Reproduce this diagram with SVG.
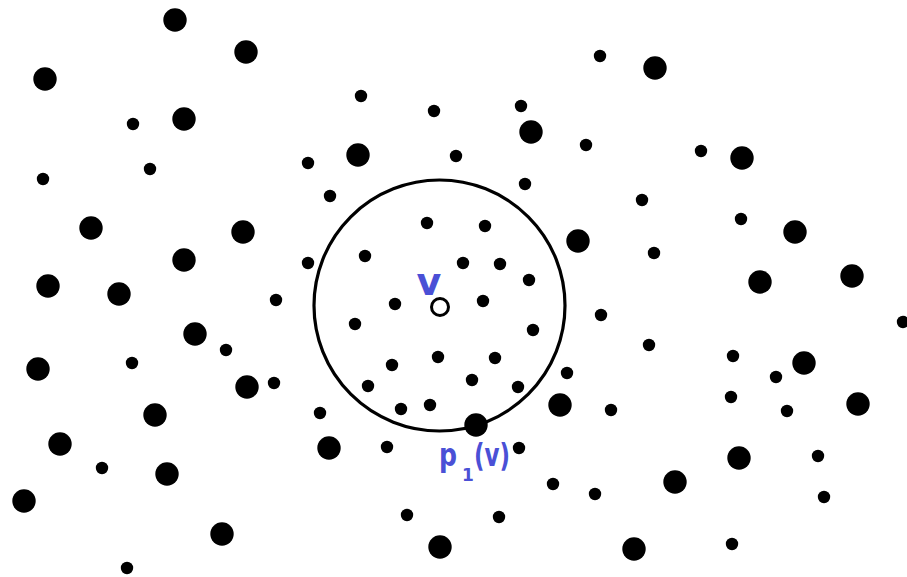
<svg xmlns="http://www.w3.org/2000/svg" width="907" height="577" viewBox="0 0 907 577">
<style>
.b{fill:#000}
.s{fill:#000}
.ring{fill:none;stroke:#000;stroke-width:3.2}
.lbl{font-family:"DejaVu Sans",sans-serif;font-weight:bold;fill:#4a50d6}
</style>
<rect width="907" height="577" fill="#fff"/>
<g id="range"><circle class="ring" cx="439.5" cy="305.5" r="125.5"/></g>
<g id="connectors"></g>
<g id="big-points">
<g id="b1"><circle class="b" cx="175" cy="20" r="11.7"/></g>
<g id="b2"><circle class="b" cx="246" cy="52" r="11.7"/></g>
<g id="b3"><circle class="b" cx="45" cy="79" r="11.7"/></g>
<g id="b4"><circle class="b" cx="184" cy="119" r="11.7"/></g>
<g id="b5"><circle class="b" cx="358" cy="155" r="11.7"/></g>
<g id="b6"><circle class="b" cx="531" cy="132" r="11.7"/></g>
<g id="b7"><circle class="b" cx="655" cy="68" r="11.7"/></g>
<g id="b8"><circle class="b" cx="742" cy="158" r="11.7"/></g>
<g id="b9"><circle class="b" cx="91" cy="228" r="11.7"/></g>
<g id="b10"><circle class="b" cx="243" cy="232" r="11.7"/></g>
<g id="b11"><circle class="b" cx="184" cy="260" r="11.7"/></g>
<g id="b12"><circle class="b" cx="578" cy="241" r="11.7"/></g>
<g id="b13"><circle class="b" cx="795" cy="232" r="11.7"/></g>
<g id="b14"><circle class="b" cx="48" cy="286" r="11.7"/></g>
<g id="b15"><circle class="b" cx="119" cy="294" r="11.7"/></g>
<g id="b16"><circle class="b" cx="760" cy="282" r="11.7"/></g>
<g id="b17"><circle class="b" cx="852" cy="276" r="11.7"/></g>
<g id="b18"><circle class="b" cx="195" cy="334" r="11.7"/></g>
<g id="b19"><circle class="b" cx="38" cy="369" r="11.7"/></g>
<g id="b20"><circle class="b" cx="247" cy="387" r="11.7"/></g>
<g id="b21"><circle class="b" cx="155" cy="415" r="11.7"/></g>
<g id="b22"><circle class="b" cx="560" cy="405" r="11.7"/></g>
<g id="b23"><circle class="b" cx="804" cy="363" r="11.7"/></g>
<g id="b24"><circle class="b" cx="858" cy="404" r="11.7"/></g>
<g id="b25"><circle class="b" cx="60" cy="444" r="11.7"/></g>
<g id="b26"><circle class="b" cx="167" cy="474" r="11.7"/></g>
<g id="b27"><circle class="b" cx="329" cy="448" r="11.7"/></g>
<g id="p1v"><circle class="b" cx="476" cy="425" r="11.7"/></g>
<g id="b29"><circle class="b" cx="739" cy="458" r="11.7"/></g>
<g id="b30"><circle class="b" cx="675" cy="482" r="11.7"/></g>
<g id="b31"><circle class="b" cx="24" cy="501" r="11.7"/></g>
<g id="b32"><circle class="b" cx="222" cy="534" r="11.7"/></g>
<g id="b33"><circle class="b" cx="440" cy="547" r="11.7"/></g>
<g id="b34"><circle class="b" cx="634" cy="549" r="11.7"/></g>
</g>
<g id="small-points">
<g id="s1"><circle class="s" cx="600" cy="56" r="6.2"/></g>
<g id="s2"><circle class="s" cx="361" cy="96" r="6.2"/></g>
<g id="s3"><circle class="s" cx="434" cy="111" r="6.2"/></g>
<g id="s4"><circle class="s" cx="521" cy="106" r="6.2"/></g>
<g id="s5"><circle class="s" cx="133" cy="124" r="6.2"/></g>
<g id="s6"><circle class="s" cx="586" cy="145" r="6.2"/></g>
<g id="s7"><circle class="s" cx="456" cy="156" r="6.2"/></g>
<g id="s8"><circle class="s" cx="701" cy="151" r="6.2"/></g>
<g id="s9"><circle class="s" cx="308" cy="163" r="6.2"/></g>
<g id="s10"><circle class="s" cx="150" cy="169" r="6.2"/></g>
<g id="s11"><circle class="s" cx="43" cy="179" r="6.2"/></g>
<g id="s12"><circle class="s" cx="525" cy="184" r="6.2"/></g>
<g id="s13"><circle class="s" cx="330" cy="196" r="6.2"/></g>
<g id="s14"><circle class="s" cx="642" cy="200" r="6.2"/></g>
<g id="s15"><circle class="s" cx="741" cy="219" r="6.2"/></g>
<g id="s16"><circle class="s" cx="427" cy="223" r="6.2"/></g>
<g id="s17"><circle class="s" cx="485" cy="226" r="6.2"/></g>
<g id="s18"><circle class="s" cx="654" cy="253" r="6.2"/></g>
<g id="s19"><circle class="s" cx="308" cy="263" r="6.2"/></g>
<g id="s20"><circle class="s" cx="365" cy="256" r="6.2"/></g>
<g id="s21"><circle class="s" cx="463" cy="263" r="6.2"/></g>
<g id="s22"><circle class="s" cx="500" cy="264" r="6.2"/></g>
<g id="s23"><circle class="s" cx="529" cy="280" r="6.2"/></g>
<g id="s24"><circle class="s" cx="276" cy="300" r="6.2"/></g>
<g id="s25"><circle class="s" cx="395" cy="304" r="6.2"/></g>
<g id="s26"><circle class="s" cx="483" cy="301" r="6.2"/></g>
<g id="s27"><circle class="s" cx="601" cy="315" r="6.2"/></g>
<g id="s28"><circle class="s" cx="355" cy="324" r="6.2"/></g>
<g id="s29"><circle class="s" cx="533" cy="330" r="6.2"/></g>
<g id="s30"><circle class="s" cx="226" cy="350" r="6.2"/></g>
<g id="s31"><circle class="s" cx="649" cy="345" r="6.2"/></g>
<g id="s32"><circle class="s" cx="733" cy="356" r="6.2"/></g>
<g id="s33"><circle class="s" cx="132" cy="363" r="6.2"/></g>
<g id="s34"><circle class="s" cx="392" cy="365" r="6.2"/></g>
<g id="s35"><circle class="s" cx="438" cy="357" r="6.2"/></g>
<g id="s36"><circle class="s" cx="495" cy="358" r="6.2"/></g>
<g id="s37"><circle class="s" cx="567" cy="373" r="6.2"/></g>
<g id="s38"><circle class="s" cx="776" cy="377" r="6.2"/></g>
<g id="s39"><circle class="s" cx="274" cy="383" r="6.2"/></g>
<g id="s40"><circle class="s" cx="368" cy="386" r="6.2"/></g>
<g id="s41"><circle class="s" cx="472" cy="380" r="6.2"/></g>
<g id="s42"><circle class="s" cx="518" cy="387" r="6.2"/></g>
<g id="s43"><circle class="s" cx="731" cy="397" r="6.2"/></g>
<g id="s44"><circle class="s" cx="401" cy="409" r="6.2"/></g>
<g id="s45"><circle class="s" cx="430" cy="405" r="6.2"/></g>
<g id="s46"><circle class="s" cx="611" cy="410" r="6.2"/></g>
<g id="s47"><circle class="s" cx="787" cy="411" r="6.2"/></g>
<g id="s48"><circle class="s" cx="320" cy="413" r="6.2"/></g>
<g id="s49"><circle class="s" cx="903" cy="322" r="6.2"/></g>
<g id="s50"><circle class="s" cx="387" cy="447" r="6.2"/></g>
<g id="s51"><circle class="s" cx="519" cy="448" r="6.2"/></g>
<g id="s52"><circle class="s" cx="102" cy="468" r="6.2"/></g>
<g id="s53"><circle class="s" cx="818" cy="456" r="6.2"/></g>
<g id="s54"><circle class="s" cx="553" cy="484" r="6.2"/></g>
<g id="s55"><circle class="s" cx="595" cy="494" r="6.2"/></g>
<g id="s56"><circle class="s" cx="824" cy="497" r="6.2"/></g>
<g id="s57"><circle class="s" cx="407" cy="515" r="6.2"/></g>
<g id="s58"><circle class="s" cx="499" cy="517" r="6.2"/></g>
<g id="s59"><circle class="s" cx="732" cy="544" r="6.2"/></g>
<g id="s60"><circle class="s" cx="127" cy="568" r="6.2"/></g>
</g>
<g id="v">
<circle cx="440" cy="307" r="8.5" fill="#fff" stroke="#000" stroke-width="3"/>
<text class="lbl" x="429" y="295" font-size="38" text-anchor="middle">v</text>
</g>
<g id="p1v-label">
<text class="lbl" x="439" y="466" font-size="32" textLength="18" lengthAdjust="spacingAndGlyphs">p</text>
<text class="lbl" x="462" y="481" font-size="17">1</text>
<text class="lbl" x="474" y="466" font-size="32" textLength="36" lengthAdjust="spacingAndGlyphs">(v)</text>
</g>
</svg>
